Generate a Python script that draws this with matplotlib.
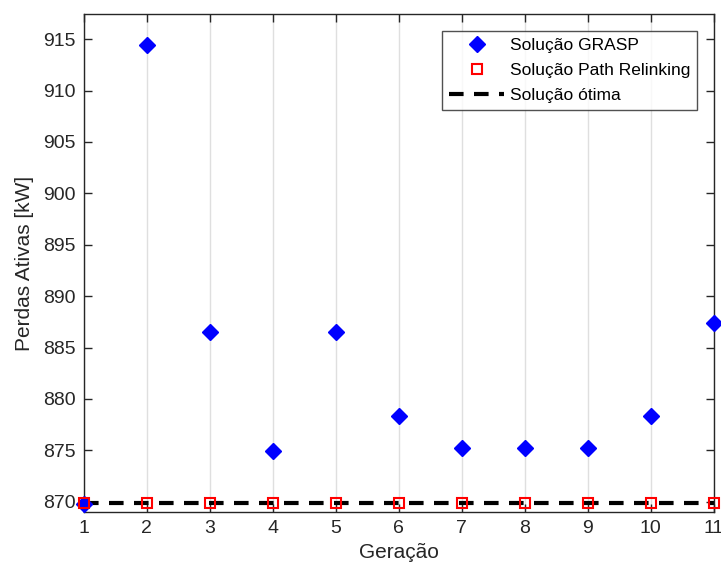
import matplotlib
matplotlib.use("Agg")
import matplotlib.pyplot as plt

plt.rcParams['font.family'] = ['Liberation Sans', 'DejaVu Sans']

geracao = [1, 2, 3, 4, 5, 6, 7, 8, 9, 10, 11]
grasp = [869.8, 914.45, 886.5, 874.9, 886.5, 878.3, 875.2, 875.2, 875.2, 878.3, 887.4]
path_relinking = [869.85] * 11
otima = 869.85
yticks = [870, 875, 880, 885, 890, 895, 900, 905, 910, 915]

fig = plt.figure(figsize=(7.21, 5.70), dpi=100)
ax = fig.add_axes([0.116, 0.1018, 0.8736, 0.8728])

ax.plot(geracao, grasp, linestyle='none', marker='D', markersize=8.5,
        color='#0000ff', label='Solução GRASP', clip_on=False, zorder=3)
ax.plot(geracao, path_relinking, linestyle='none', marker='s', markersize=7,
        markerfacecolor='none', markeredgecolor='#ff0000', markeredgewidth=1.5,
        label='Solução Path Relinking', clip_on=False, zorder=4)
ax.axhline(otima, color='black', linestyle=(0, (3.5, 2.5)), linewidth=3,
           label='Solução ótima', zorder=2)

ax.set_xlim(1, 11)
ax.set_ylim(869.0, 917.4)
ax.set_xticks(geracao)
ax.set_yticks(yticks)
ax.grid(axis='x', color='#dfdfdf', linewidth=1)
ax.set_axisbelow(True)
ax.tick_params(direction='in', top=True, right=True, labelsize=14,
               length=6, width=1, colors='#262626', pad=6)
for s in ax.spines.values():
    s.set_color('#262626')
    s.set_linewidth(1)

ax.set_xlabel('Geração', fontsize=15, color='#262626', labelpad=4)
ax.set_ylabel('Perdas Ativas [kW]', fontsize=15, color='#262626', labelpad=6)

leg = ax.legend(loc='upper right', bbox_to_anchor=(0.982, 0.977), fontsize=12.5,
                frameon=True, fancybox=False, edgecolor='#262626',
                handlelength=3.2, handletextpad=0.3, borderaxespad=0.3,
                labelspacing=0.55, borderpad=0.4)
leg.get_frame().set_linewidth(1)

fig.savefig('out.png', dpi=100)
